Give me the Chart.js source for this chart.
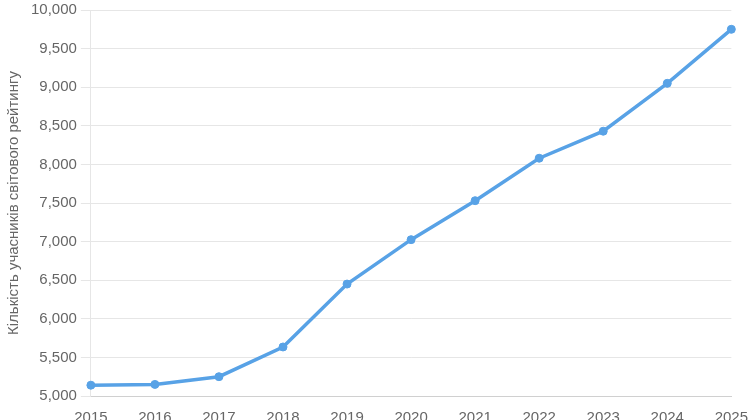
<!DOCTYPE html>
<html>
<head>
<meta charset="utf-8">
<script src="https://cdn.jsdelivr.net/npm/chart.js"></script>
<style>
    html, body { margin: 0; padding: 0; overflow: hidden; background: #fff; }
    .chart-box { position: relative; width: 753px; height: 435px; margin-top: -3px; }
</style>
</head>
<body>
<div class="chart-box">
    <canvas id="lineChart"></canvas>
</div>
<script>
    const years = ['2015', '2016', '2017', '2018', '2019', '2020', '2021', '2022', '2023', '2024', '2025'];
    const participants = [5140, 5150, 5250, 5635, 6450, 7025, 7530, 8080, 8430, 9050, 9750];
    const yAxisTitle = 'Кількість учасників світового рейтингу';

    const lineColor = 'rgb(88, 162, 230)';
    const font = { family: 'Liberation Sans, Arial', size: 15 };

    const lineChart = new Chart(document.getElementById('lineChart'), {
        type: 'line',
        data: {
            labels: years,
            datasets: [{
                label: yAxisTitle,
                data: participants,
                borderColor: lineColor,
                backgroundColor: lineColor,
                borderWidth: 3.5,
                pointRadius: 4,
                pointBorderWidth: 1,
                pointHoverRadius: 5,
                tension: 0
            }]
        },
        options: {
            responsive: true,
            maintainAspectRatio: false,
            animation: false,
            layout: { padding: { top: 1, left: 1, right: 0, bottom: 0 } },
            plugins: {
                legend: { display: false },
                tooltip: { enabled: false }
            },
            scales: {
                x: {
                    grid: { display: false },
                    border: { color: '#d0d0d0' },
                    ticks: {
                        color: '#666',
                        font: font,
                        padding: 5,
                        maxRotation: 0
                    }
                },
                y: {
                    min: 5000,
                    max: 10000,
                    grid: { color: '#e6e6e6', tickLength: 10 },
                    border: { color: '#e6e6e6' },
                    ticks: {
                        stepSize: 500,
                        color: '#666',
                        font: font,
                        padding: 4,
                        callback: (v) => v.toLocaleString('en-US')
                    },
                    title: {
                        display: true,
                        text: yAxisTitle,
                        color: '#666',
                        font: font
                    }
                }
            }
        }
    });
</script>
</body>
</html>
